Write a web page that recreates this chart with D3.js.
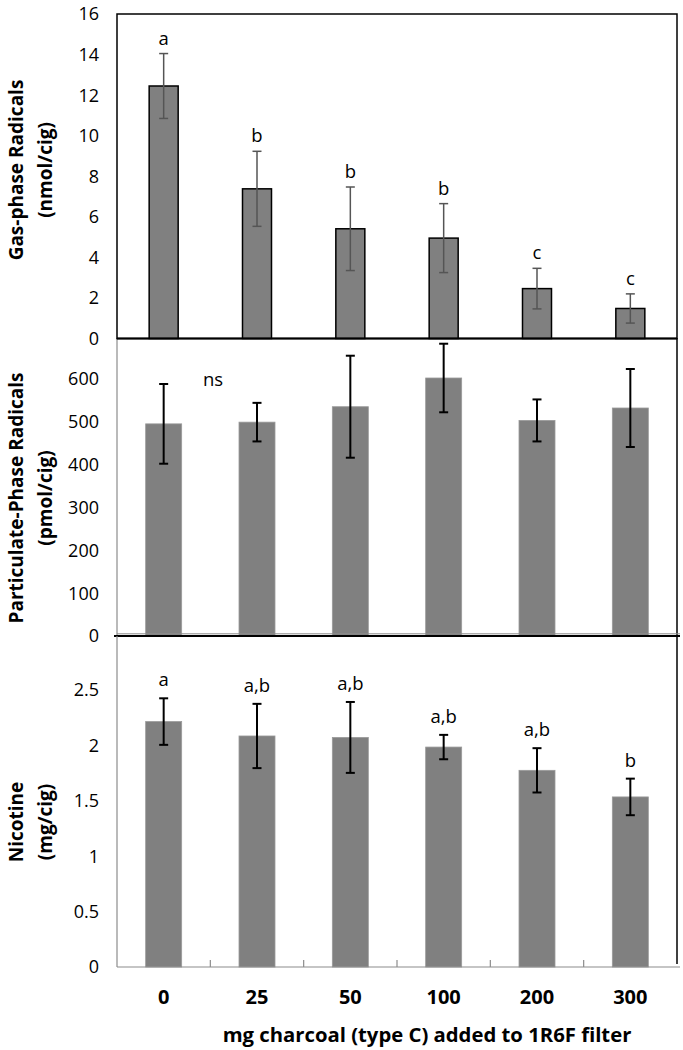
<!DOCTYPE html>
<html><head><meta charset="utf-8">
<script src="https://cdn.jsdelivr.net/npm/d3@7"></script>
<style>body{margin:0;background:#fff;} svg{display:block;font-family:"Open Sans",sans-serif;}</style>
</head><body>
<script>
const categories = ["0","25","50","100","200","300"];
const gasValues = [12.45, 7.38, 5.41, 4.95, 2.46, 1.48];
const gasErrors = [1.60, 1.85, 2.06, 1.70, 1.00, 0.72];
const gasLetters = ["a","b","b","b","c","c"];
const partValues = [495, 499, 535, 602, 503, 532];
const partErrors = [93, 45, 119, 80, 49, 91];
const partTicks = [0,100,200,300,400,500,600];
const nicValues = [2.215, 2.085, 2.072, 1.985, 1.775, 1.535];
const nicErrors = [0.21, 0.29, 0.32, 0.11, 0.20, 0.165];
const nicLetters = ["a","a,b","a,b","a,b","a,b","b"];
const gasTicks = [0,2,4,6,8,10,12,14,16];
const nicTicks = [0,0.5,1,1.5,2,2.5];
const xTitle = "mg charcoal (type C) added to 1R6F filter";

const W = 683, H = 1050;
const svg = d3.select("body").append("svg").attr("width", W).attr("height", H);
const L = 117, R = 677;
const x = d3.scaleBand().domain(categories).range([L, R]);
const cx = c => x(c) + x.bandwidth()/2;

const yGas = d3.scaleLinear().domain([0,16]).range([338.5, 14]);
const yPart = d3.scaleLinear().domain([0,700]).range([636, 336]);
const yNic = d3.scaleLinear().domain([0,3]).range([967, 634.6]);

function tickLabels(scale, ticks, fmt) {
  svg.append("g").selectAll("text").data(ticks).join("text")
    .attr("x", 99).attr("y", d => scale(d)).attr("dy", "0.36em")
    .attr("text-anchor", "end").attr("font-size", 18).attr("fill", "#000")
    .text(fmt || (d => d));
}
function yTitle(lines, cy) {
  const g = svg.append("g").attr("transform", `translate(0,${cy}) rotate(-90)`);
  g.append("text").attr("x", 0).attr("y", 23).attr("text-anchor", "middle")
    .attr("font-size", 19).attr("font-weight", "bold").text(lines[0]);
  g.append("text").attr("x", 0).attr("y", 52).attr("text-anchor", "middle")
    .attr("font-size", 19).attr("font-weight", "bold").text(lines[1]);
}
function errorBars(scale, vals, errs, color, width) {
  const g = svg.append("g").attr("stroke", color).attr("stroke-width", width);
  vals.forEach((v, i) => {
    const c = cx(categories[i]);
    const t = scale(v + errs[i]), b = scale(v - errs[i]);
    g.append("line").attr("x1", c).attr("x2", c).attr("y1", t).attr("y2", b);
    g.append("line").attr("x1", c-4.5).attr("x2", c+4.5).attr("y1", t).attr("y2", t);
    g.append("line").attr("x1", c-4.5).attr("x2", c+4.5).attr("y1", b).attr("y2", b);
  });
}

// ---------- Middle panel ----------
svg.append("line").attr("x1", L).attr("x2", L).attr("y1", 338).attr("y2", 636).attr("stroke", "#8c8c8c").attr("stroke-width", 1.2);
svg.append("line").attr("x1", R).attr("x2", R).attr("y1", 338).attr("y2", 636).attr("stroke", "#000").attr("stroke-width", 1.5);
const pbw = 36;
svg.append("g").selectAll("rect").data(partValues).join("rect")
  .attr("x", (d,i) => cx(categories[i]) - pbw/2).attr("width", pbw)
  .attr("y", d => yPart(d)).attr("height", d => yPart(0) - yPart(d))
  .attr("fill", "#808080").attr("stroke", "#9a9a9a").attr("stroke-width", 0.8);
errorBars(yPart, partValues, partErrors, "#000", 2);
svg.append("line").attr("x1", L).attr("x2", R+3).attr("y1", 633.8).attr("y2", 633.8).attr("stroke", "#8c8c8c").attr("stroke-width", 1);
svg.append("line").attr("x1", L-3).attr("x2", R+3).attr("y1", 636).attr("y2", 636).attr("stroke", "#000").attr("stroke-width", 2);
svg.append("text").attr("x", 213).attr("y", yPart(600)).attr("dy", "0.36em").attr("text-anchor", "middle")
  .attr("font-size", 18.5).text("ns");
tickLabels(yPart, partTicks);
yTitle(["Particulate-Phase Radicals", "(pmol/cig)"], 498);

// ---------- Bottom panel ----------
svg.append("line").attr("x1", L).attr("x2", L).attr("y1", 636).attr("y2", 967).attr("stroke", "#8c8c8c").attr("stroke-width", 1.2);
svg.append("line").attr("x1", R).attr("x2", R).attr("y1", 636).attr("y2", 964).attr("stroke", "#000").attr("stroke-width", 1.5);
svg.append("g").selectAll("rect").data(nicValues).join("rect")
  .attr("x", (d,i) => cx(categories[i]) - pbw/2).attr("width", pbw)
  .attr("y", d => yNic(d)).attr("height", d => yNic(0) - yNic(d))
  .attr("fill", "#808080").attr("stroke", "#9a9a9a").attr("stroke-width", 0.8);
errorBars(yNic, nicValues, nicErrors, "#000", 2);
svg.append("line").attr("x1", L).attr("x2", R+3).attr("y1", 967).attr("y2", 967).attr("stroke", "#8c8c8c").attr("stroke-width", 1.2);
svg.append("g").selectAll("line").data(d3.range(1, categories.length)).join("line")
  .attr("x1", d => L + d*x.step()).attr("x2", d => L + d*x.step())
  .attr("y1", 960).attr("y2", 967).attr("stroke", "#8c8c8c").attr("stroke-width", 1.2);
svg.append("g").selectAll("text").data(nicLetters).join("text")
  .attr("x", (d,i) => cx(categories[i])).attr("y", (d,i) => yNic(nicValues[i] + nicErrors[i]) - 12)
  .attr("text-anchor", "middle").attr("font-size", 18.5).text(d => d);
tickLabels(yNic, nicTicks);
yTitle(["Nicotine", "(mg/cig)"], 822);

// x tick labels & title
svg.append("g").selectAll("text").data(categories).join("text")
  .attr("x", d => cx(d)).attr("y", 1004).attr("text-anchor", "middle")
  .attr("font-size", 20).attr("font-weight", "bold").text(d => d);
svg.append("text").attr("x", 427).attr("y", 1042).attr("text-anchor", "middle")
  .attr("font-size", 20.3).attr("font-weight", "bold").text(xTitle);

// ---------- Top panel ----------
svg.append("rect").attr("x", L).attr("y", 14).attr("width", R - L).attr("height", 338.5 - 14)
  .attr("fill", "none").attr("stroke", "#000").attr("stroke-width", 1.5);
const gbw = 29;
svg.append("g").selectAll("rect").data(gasValues).join("rect")
  .attr("x", (d,i) => cx(categories[i]) - gbw/2).attr("width", gbw)
  .attr("y", d => yGas(d)).attr("height", d => yGas(0) - yGas(d))
  .attr("fill", "#808080").attr("stroke", "#000").attr("stroke-width", 1.5);
errorBars(yGas, gasValues, gasErrors, "#555", 1.5);
svg.append("line").attr("x1", L).attr("x2", R).attr("y1", 338.5).attr("y2", 338.5).attr("stroke", "#000").attr("stroke-width", 2);
svg.append("g").selectAll("text").data(gasLetters).join("text")
  .attr("x", (d,i) => cx(categories[i])).attr("y", (d,i) => yGas(gasValues[i] + gasErrors[i]) - 9)
  .attr("text-anchor", "middle").attr("font-size", 18.5).text(d => d);
tickLabels(yGas, gasTicks);
yTitle(["Gas-phase Radicals", "(nmol/cig)"], 170);
</script>
</body></html>
